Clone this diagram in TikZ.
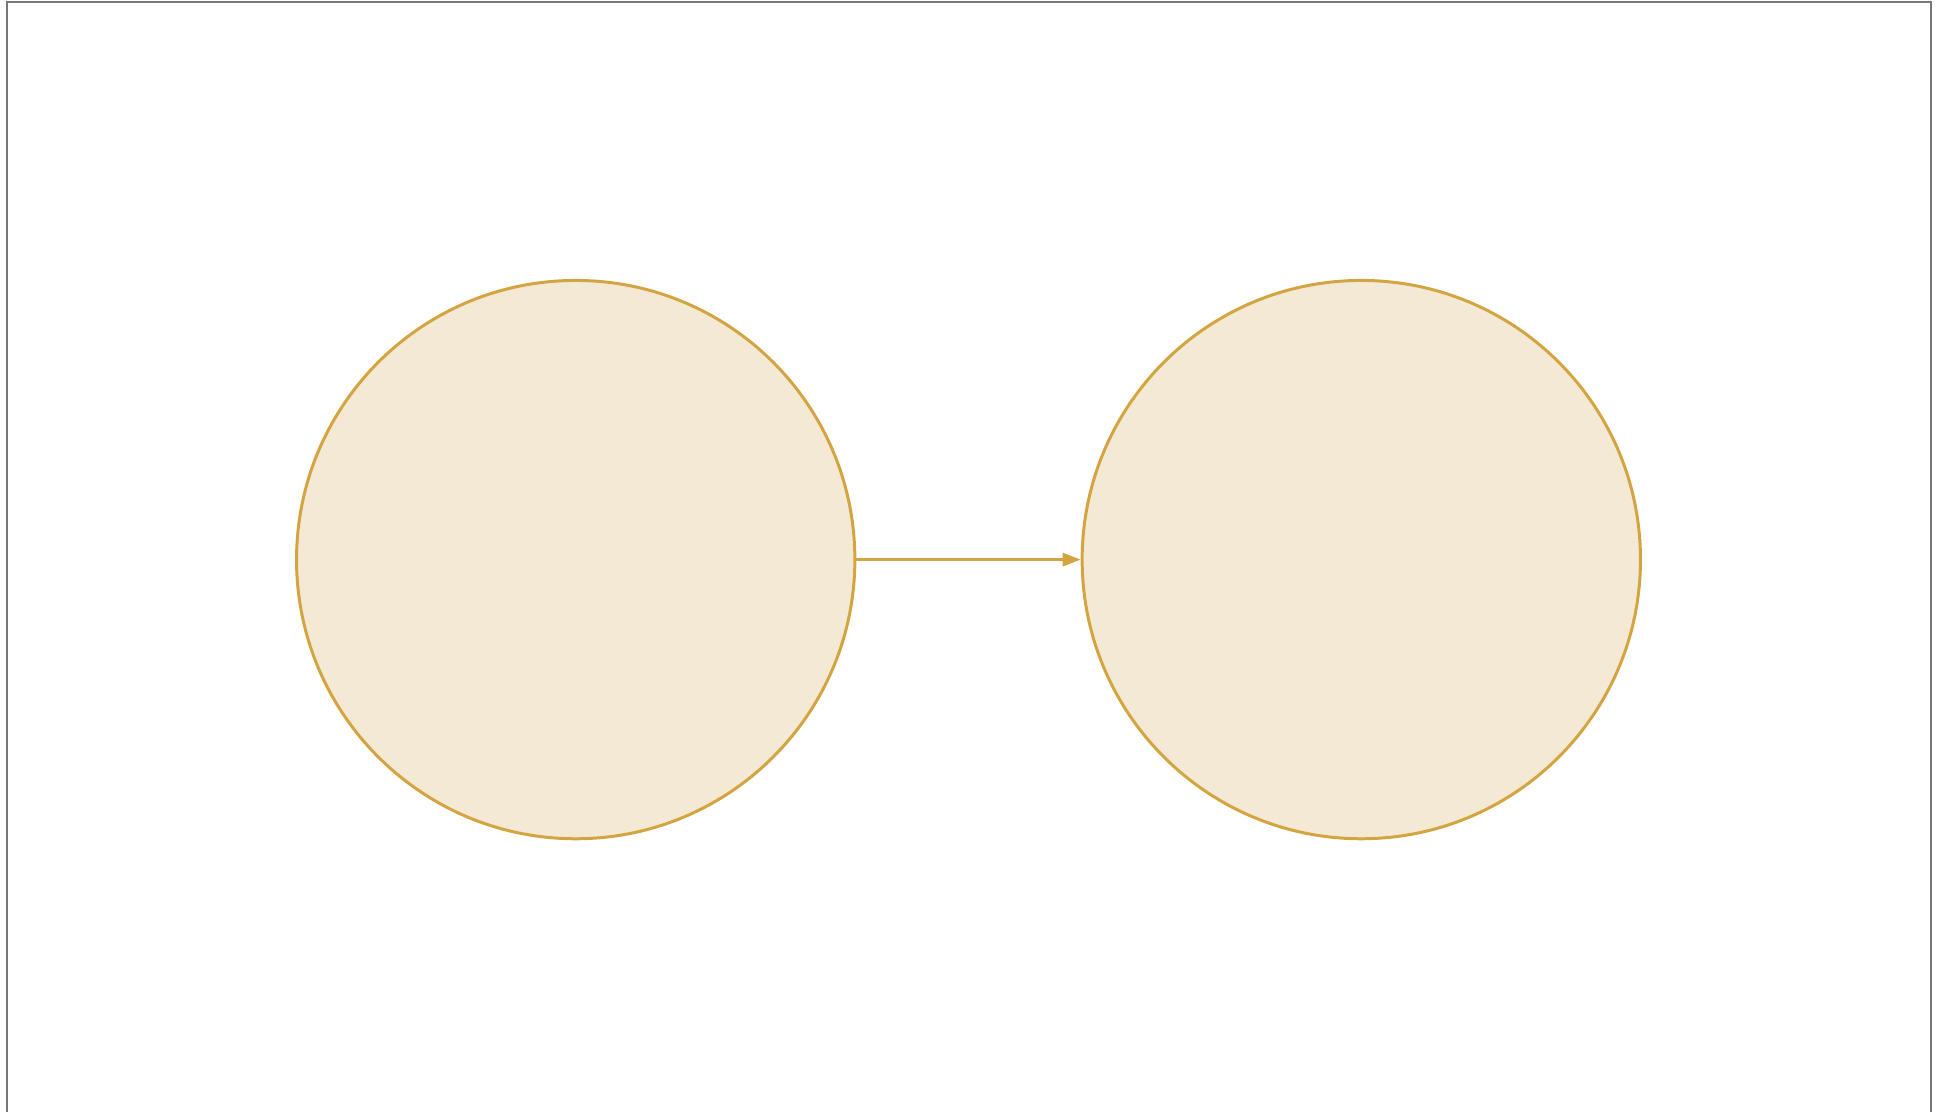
\documentclass[tikz,border=0pt]{standalone}
\usetikzlibrary{arrows.meta}
\definecolor{ochre}{HTML}{D4A440}
\definecolor{sand}{HTML}{F4E9D4}
\definecolor{frame}{HTML}{777777}
\tikzset{
  state/.style={circle, draw=ochre, fill=sand, line width=0.85pt, minimum size=5.58cm, inner sep=0pt},
  link/.style={draw=ochre, line width=0.85pt, -{Triangle[length=1.8mm, width=1.3mm]}}
}
\begin{document}
\begin{tikzpicture}[x=0.01cm, y=-0.01cm]
  \useasboundingbox (0,0) rectangle (1937,1112);
  \draw[frame, line width=0.6pt] (7,1112) -- (7,2) -- (1931,2) -- (1931,1112);
  \node[state] (src) at (575.7,559.6) {};
  \node[state] (dst) at (1361.3,559.6) {};
  \draw[link] (src.east) -- (dst.west);
\end{tikzpicture}
\end{document}
